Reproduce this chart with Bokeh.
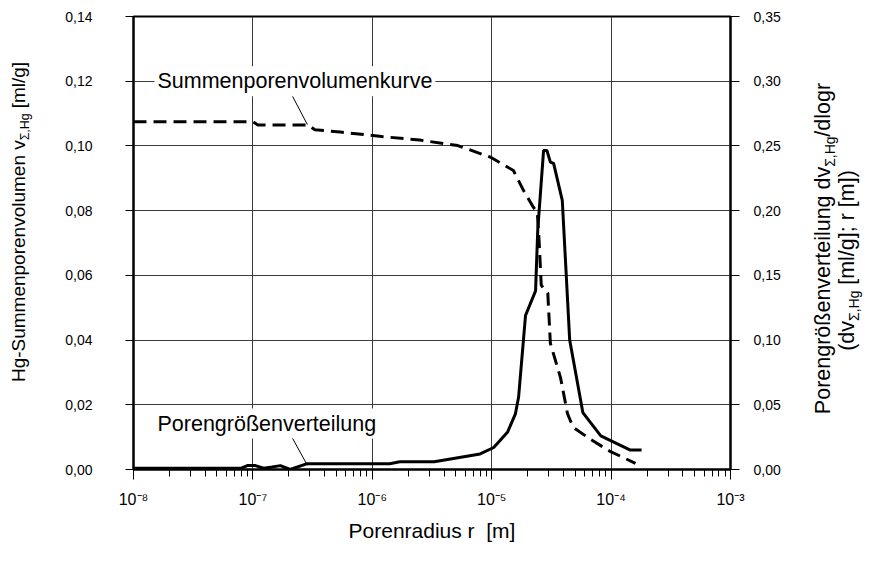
import math
from bokeh.plotting import figure
from bokeh.models import Range1d, LinearAxis, FixedTicker, CustomJSTickFormatter, Label
from bokeh.layouts import row
from bokeh.core.properties import value
from bokeh.embed import file_html
from bokeh.resources import INLINE

# ---------------- data ----------------
# cumulative pore volume (left axis, ml/g)
radius_cum = [1e-8, 1.0e-7, 1.1e-7, 2.9e-7, 3.3e-7, 5.4e-7, 1.2e-6, 2.5e-6, 5.2e-6,
              9.8e-6, 1.52e-5, 1.85e-5, 2.24e-5, 2.41e-5, 2.5e-5, 2.6e-5, 2.75e-5,
              2.95e-5, 3.1e-5, 3.77e-5, 4.31e-5, 4.57e-5, 4.84e-5, 6.6e-5, 9.7e-5, 1.6e-4]
vol_cum = [0.1075, 0.1075, 0.1065, 0.1065, 0.1050, 0.1043, 0.1029, 0.1018, 0.1001,
           0.0965, 0.0924, 0.0862, 0.0810, 0.0795, 0.0700, 0.0570, 0.0555,
           0.0545, 0.0390, 0.0284, 0.0173, 0.0150, 0.0130, 0.0095, 0.0057, 0.0019]

# pore size distribution (right axis)
radius_dist = [1e-8, 8.0e-8, 9.0e-8, 1.05e-7, 1.23e-7, 1.45e-7, 1.7e-7, 2.05e-7, 2.85e-7,
               1.4e-6, 1.7e-6, 3.3e-6, 8.0e-6, 1.04e-5, 1.36e-5, 1.58e-5, 1.68e-5,
               1.92e-5, 2.33e-5, 2.43e-5, 2.72e-5, 2.9e-5, 3.1e-5, 3.3e-5, 3.9e-5,
               4.5e-5, 5.8e-5, 8.2e-5, 1.45e-4, 1.8e-4]
dist_vals = [0.001, 0.001, 0.003, 0.003, 0.001, 0.002, 0.003, 0.000, 0.0045,
             0.0045, 0.006, 0.006, 0.012, 0.017, 0.029, 0.043, 0.056,
             0.119, 0.138, 0.185, 0.2465, 0.2465, 0.2375, 0.2365, 0.208,
             0.100, 0.044, 0.026, 0.015, 0.015]

x_decades = [1e-8, 1e-7, 1e-6, 1e-5, 1e-4, 1e-3]
x_tick_labels = ["10⁻⁸", "10⁻⁷", "10⁻⁶", "10⁻⁵", "10⁻⁴", "10⁻³"]
left_ticks = [0.0, 0.02, 0.04, 0.06, 0.08, 0.10, 0.12, 0.14]
left_tick_labels = ["0,00", "0,02", "0,04", "0,06", "0,08", "0,10", "0,12", "0,14"]
right_ticks = [0.0, 0.05, 0.10, 0.15, 0.20, 0.25, 0.30, 0.35]
right_tick_labels = ["0,00", "0,05", "0,10", "0,15", "0,20", "0,25", "0,30", "0,35"]

# annotation anchors (text label and leader line ends)
cum_label_y = 0.12
cum_leader_x = [2.15e-7, 2.86e-7]
cum_leader_y = [0.1153, 0.1066]
dist_label_y = 0.0142
dist_leader_x = [2.15e-7, 2.86e-7]
dist_leader_y = [0.0096, 0.0013]

FONT = "Liberation Sans"
TOTAL_W, TOTAL_H = 863, 545
LEFT_W = 40            # left title strip
RIGHT_X = 795          # start of right title strip
FRAME_L, FRAME_R, FRAME_T, FRAME_B = 133, 730, 16, 469
MAIN_W = RIGHT_X - LEFT_W

p = figure(width=MAIN_W, height=TOTAL_H, x_axis_type="log",
           x_range=Range1d(1e-8, 1e-3), y_range=Range1d(0, 0.14),
           output_backend="svg", toolbar_location=None,
           min_border_left=FRAME_L - LEFT_W, min_border_right=RIGHT_X - FRAME_R,
           min_border_top=FRAME_T, min_border_bottom=TOTAL_H - FRAME_B)
p.background_fill_color = "white"
p.border_fill_color = "white"
p.outline_line_color = "black"
p.outline_line_width = 2

minor = [m * d for d in x_decades[:-1] for m in range(2, 10)]
p.xaxis.ticker = FixedTicker(ticks=x_decades, minor_ticks=minor)
p.xaxis.formatter = CustomJSTickFormatter(args=dict(labels=x_tick_labels),
                                          code="return labels[index]")
p.xaxis.major_label_text_font = FONT
p.xaxis.major_label_text_font_size = "16px"
p.xaxis.major_label_text_color = "black"
p.xaxis.major_label_standoff = 11
p.xaxis.axis_line_width = 2
p.xaxis.major_tick_out = 10
p.xaxis.major_tick_in = 0
p.xaxis.minor_tick_out = 7
p.xaxis.minor_tick_in = 0
p.xaxis.axis_label = "Porenradius r\u00a0 [m]"
p.xaxis.axis_label_text_font = FONT
p.xaxis.axis_label_text_font_size = "21px"
p.xaxis.axis_label_text_font_style = "normal"
p.xaxis.axis_label_text_color = "black"
p.xaxis.axis_label_standoff = 8

p.yaxis.ticker = FixedTicker(ticks=left_ticks)
p.yaxis.formatter = CustomJSTickFormatter(args=dict(labels=left_tick_labels),
                                          code="return labels[index]")
p.yaxis.axis_line_width = 2
p.yaxis.major_tick_out = 8
p.yaxis.major_tick_in = 0
p.yaxis.minor_tick_out = 0
p.yaxis.minor_tick_in = 0
p.yaxis.major_label_standoff = 33
p.yaxis.major_label_text_font = FONT
p.yaxis.major_label_text_font_size = "14px"
p.yaxis.major_label_text_color = "black"

p.extra_y_ranges = {"r": Range1d(0, 0.35)}
rax = LinearAxis(y_range_name="r", ticker=FixedTicker(ticks=right_ticks),
                 formatter=CustomJSTickFormatter(args=dict(labels=right_tick_labels),
                                                 code="return labels[index]"))
rax.axis_line_width = 2
rax.major_tick_out = 9
rax.major_tick_in = 0
rax.minor_tick_out = 0
rax.minor_tick_in = 0
rax.major_label_standoff = 14
rax.major_label_text_font = FONT
rax.major_label_text_font_size = "14px"
rax.major_label_text_color = "black"
p.add_layout(rax, "right")

p.xgrid.grid_line_color = "#3a3a3a"
p.ygrid.grid_line_color = "#3a3a3a"
p.xgrid.grid_line_width = 1
p.ygrid.grid_line_width = 1

# curves
p.line(radius_cum, vol_cum, line_color="black", line_width=3, line_dash="13 7")
p.line(radius_dist, dist_vals, y_range_name="r", line_color="black", line_width=3)

# annotation texts with white boxes
for txt, yv in [("Summenporenvolumenkurve", cum_label_y), ("Porengrößenverteilung", dist_label_y)]:
    p.add_layout(Label(x=21, x_units="screen", y=yv, y_units="data", text=txt,
                       text_font=FONT, text_font_size="21.5px", text_color="black",
                       text_baseline="middle", text_align="left",
                       background_fill_color="white", padding=3))
for xs, ys in [(cum_leader_x, cum_leader_y), (dist_leader_x, dist_leader_y)]:
    r = p.line(xs, ys, line_color="black", line_width=1)
    r.level = "overlay"

# ---------------- vertical title strips ----------------
CW = {' ': 278, '(': 333, ')': 333, ',': 278, '-': 333, '/': 278, ';': 278, '[': 278,
      ']': 278, 'H': 722, 'P': 667, 'S': 667, 'a': 556, 'd': 556, 'e': 556, 'g': 556,
      'i': 222, 'k': 500, 'l': 222, 'm': 833, 'n': 556, 'o': 556, 'p': 556, 'r': 333,
      't': 278, 'u': 556, 'v': 500, 'ö': 556, 'ß': 611, 'Σ': 602, 's': 500}
SHIFT = 0.36   # observed offset of rendered rotated glyph text, in em


def tw(s, size):
    return sum(CW.get(c, 556) for c in s) / 1000.0 * size


def strip(width):
    # same vertical borders as the main plot, so its frame lines up with it;
    # data coordinates equal page pixels
    f = figure(width=width, height=TOTAL_H, output_backend="svg", toolbar_location=None,
               x_range=Range1d(0, width), y_range=Range1d(FRAME_B, FRAME_T),
               x_axis_type=None, y_axis_type=None,
               min_border_left=0, min_border_right=0,
               min_border_top=FRAME_T, min_border_bottom=TOTAL_H - FRAME_B)
    f.grid.visible = False
    f.outline_line_color = None
    f.background_fill_color = "white"
    f.border_fill_color = "white"
    return f


def rot_pieces(fig, pieces, x_baseline, y_center, size):
    """Text rotated 90 deg (reading upwards), made of pieces (text, scale, drop_em)."""
    total = sum(tw(t, size * sc) for t, sc, sh in pieces)
    y = y_center + total / 2.0
    for t, sc, sh in pieces:
        fs = size * sc
        lead = len(t) - len(t.lstrip(" "))
        y -= tw(" " * lead, fs)
        t2 = t.lstrip(" ")
        fig.text(x=[x_baseline + sh * size - SHIFT * fs], y=[y], text=[t2], angle=math.pi / 2,
                 text_align="left", text_baseline="alphabetic",
                 text_font=value(FONT), text_font_size=value(f"{fs:.2f}px"),
                 text_color="black")
        y -= tw(t2, fs)


pl = strip(LEFT_W)
rot_pieces(pl, [("Hg-Summenporenvolumen v", 1, 0), ("Σ,Hg", 0.65, 0.2), (" [ml/g]", 1, 0)],
           25, 221.5, 19)

pr = strip(TOTAL_W - RIGHT_X)
rot_pieces(pr, [("Porengrößenverteilung dv", 1, 0), ("Σ,Hg", 0.65, 0.2), ("/dlogr", 1, 0)],
           830 - RIGHT_X, 248, 21.5)
rot_pieces(pr, [("(dv", 1, 0), ("Σ,Hg", 0.65, 0.2), (" [ml/g]; r [m])", 1, 0)],
           854 - RIGHT_X, 260, 21.5)

layout = row(pl, p, pr, spacing=0)
open("out.html", "w").write(file_html(layout, INLINE))
